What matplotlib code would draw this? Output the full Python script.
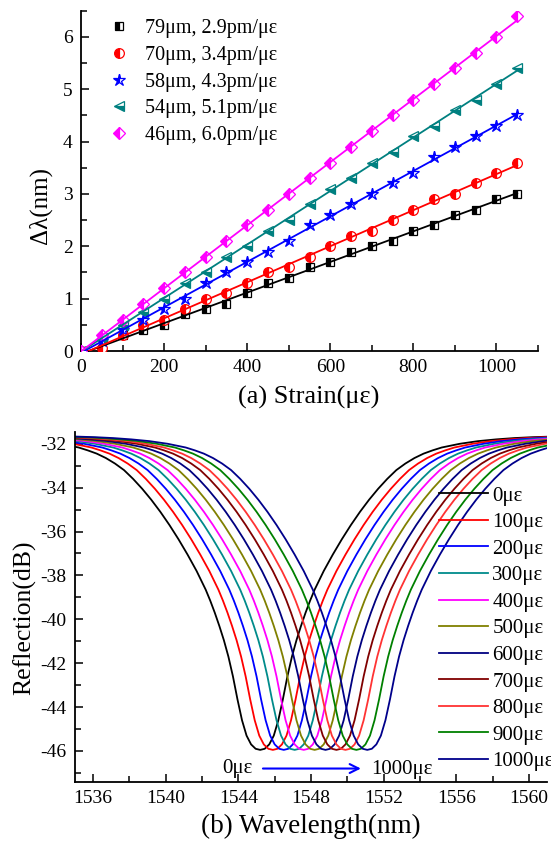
import matplotlib
matplotlib.use('Agg')
import matplotlib.pyplot as plt
import numpy as np
from matplotlib.ticker import MultipleLocator

plt.rcParams['font.family'] = ['Liberation Serif', 'DejaVu Serif']
plt.rcParams['axes.unicode_minus'] = False

# ---------------- data: panel (a) ----------------
strain = [0, 50, 100, 150, 200, 250, 300, 350, 400, 450, 500,
          550, 600, 650, 700, 750, 800, 850, 900, 950, 1000, 1050]
dl_79 = [0, 0.0, 0.3, 0.4, 0.5, 0.7, 0.8, 0.9, 1.1, 1.3, 1.4,
         1.6, 1.7, 1.9, 2.0, 2.1, 2.3, 2.4, 2.6, 2.7, 2.9, 3.0]
dl_70 = [0, 0.05, 0.3, 0.5, 0.6, 0.8, 1.0, 1.1, 1.3, 1.5, 1.6,
         1.8, 2.0, 2.2, 2.3, 2.5, 2.7, 2.9, 3.0, 3.2, 3.4, 3.6]
dl_58 = [0, 0.2, 0.4, 0.6, 0.8, 1.0, 1.3, 1.5, 1.7, 1.9, 2.1,
         2.4, 2.6, 2.8, 3.0, 3.2, 3.4, 3.7, 3.9, 4.1, 4.3, 4.5]
dl_54 = [0, 0.25, 0.5, 0.75, 1.0, 1.3, 1.5, 1.8, 2.0, 2.3, 2.5,
         2.8, 3.1, 3.3, 3.6, 3.8, 4.1, 4.3, 4.6, 4.8, 5.1, 5.4]
dl_46 = [0, 0.3, 0.6, 0.9, 1.2, 1.5, 1.8, 2.1, 2.4, 2.7, 3.0,
         3.3, 3.6, 3.9, 4.2, 4.5, 4.8, 5.1, 5.4, 5.7, 6.0, 6.4]
labels_a = ['79\u03bcm, 2.9pm/\u03bc\u03b5', '70\u03bcm, 3.4pm/\u03bc\u03b5',
            '58\u03bcm, 4.3pm/\u03bc\u03b5', '54\u03bcm, 5.1pm/\u03bc\u03b5',
            '46\u03bcm, 6.0pm/\u03bc\u03b5']
series_a = [dl_79, dl_70, dl_58, dl_54, dl_46]
colors_a = ['#000000', '#FF0000', '#0000FF', '#008080', '#FF00FF']
markers_a = ['s', 'o', '*', '<', 'D']
fills_a = ['left', 'left', 'left', 'bottom', 'left']
msizes_a = [6, 7, 9, 7.5, 6]

# ---------------- data: panel (b) ----------------
strain_b = ['0', '100', '200', '300', '400', '500', '600', '700', '800', '900', '1000']
centers_b = [1545.2, 1545.9, 1546.5, 1547.1, 1547.6, 1548.2,
             1548.8, 1549.4, 1549.9, 1550.5, 1551.1]
colors_b = ['#000000', '#FF0000', '#0000FF', '#008B8B', '#FF00FF', '#808000',
            '#000080', '#800000', '#FF3333', '#008000', '#00008B']
# dip profile: distance from dip centre (nm) -> level (dB)
half_dx = [0, 0.25, 0.5, 0.75, 1.0, 1.25, 1.5, 1.75, 2.0, 2.25, 2.5, 2.75, 3.0,
           3.5, 4.0, 4.5, 5.0, 5.5, 6.0, 6.5, 7.0, 7.5, 8.0, 8.5, 9.0, 9.5,
           10, 11, 12, 13, 14, 15, 16.5]
half_db = [-45.95, -45.9, -45.7, -45.3, -44.6, -43.65, -42.6, -41.7, -40.95,
           -40.3, -39.7, -39.15, -38.65, -37.8, -37.05, -36.35, -35.7, -35.1,
           -34.55, -34.05, -33.6, -33.2, -32.9, -32.65, -32.45, -32.3, -32.17,
           -32.0, -31.88, -31.8, -31.74, -31.7, -31.66]

W, H = 551, 847
fig = plt.figure(figsize=(W / 100, H / 100), dpi=100)


def rect(l, t, r, b):
    return [l / W, 1 - b / H, (r - l) / W, (b - t) / H]


def style(ax):
    for s in ['top', 'right']:
        ax.spines[s].set_visible(False)
    for s in ['left', 'bottom']:
        ax.spines[s].set_linewidth(1.3)
    ax.tick_params(which='both', direction='in', top=False, right=False,
                   labelsize=14, width=1.1, pad=6)
    ax.tick_params(which='major', length=6)
    ax.tick_params(which='minor', length=4)


ax1 = fig.add_axes(rect(81, 10.7, 538, 351))
ax2 = fig.add_axes(rect(75, 431.7, 547, 781.7))
style(ax1)
style(ax2)

# panel (a)
xs = np.array(strain, dtype=float)
for vals, c, m, fs, ms, lab in zip(series_a, colors_a, markers_a, fills_a, msizes_a, labels_a):
    ax1.plot(xs, vals, linestyle='none', marker=m, ms=ms, fillstyle=fs,
             markerfacecolor=c, markerfacecoloralt='white', markeredgecolor=c,
             markeredgewidth=0.9, label=lab, zorder=3)
    p = np.polyfit(xs, vals, 1)
    xf = np.array([xs.min(), xs.max()])
    ax1.plot(xf, np.polyval(p, xf), color=c, lw=1.3, zorder=4)

ax1.set_xlim(0, 1100)
ax1.set_ylim(0, 6.5)
ax1.xaxis.set_major_locator(MultipleLocator(200))
ax1.xaxis.set_minor_locator(MultipleLocator(100))
ax1.yaxis.set_major_locator(MultipleLocator(1))
ax1.yaxis.set_minor_locator(MultipleLocator(0.5))
ax1.legend(loc='upper left', bbox_to_anchor=(109 / W, 1 - 19 / H),
           bbox_transform=fig.transFigure, frameon=False, fontsize=14.5,
           handlelength=1.0, handletextpad=0.8, labelspacing=0.38,
           borderpad=0, borderaxespad=0)

fig.text(309 / W, 1 - 397 / H, '(a) Strain(\u03bc\u03b5)', ha='center', va='center', fontsize=19)
fig.text(40 / W, 1 - 205 / H, '\u0394\u03bb(nm)', ha='center', va='center', fontsize=18, rotation=90)

# panel (b)
prof_dx = np.concatenate([-np.array(half_dx[:0:-1]), np.array(half_dx)])
prof_db = np.concatenate([np.array(half_db[:0:-1]), np.array(half_db)])
for cen, c, lab in zip(centers_b, colors_b, strain_b):
    ax2.plot(cen + prof_dx, prof_db, color=c, lw=1.3, label=lab + '\u03bc\u03b5')

ax2.set_xlim(1535, 1561)
ax2.set_ylim(-47.4, -31.45)
ax2.xaxis.set_major_locator(MultipleLocator(4))
ax2.xaxis.set_minor_locator(MultipleLocator(2))
ax2.yaxis.set_major_locator(MultipleLocator(2))
ax2.yaxis.set_minor_locator(MultipleLocator(1))
ax2.legend(loc='upper left', bbox_to_anchor=(439 / W, 1 - 486 / H),
           bbox_transform=fig.transFigure, frameon=False, fontsize=15,
           handlelength=2.36, handletextpad=0.2, labelspacing=0.335,
           borderpad=0, borderaxespad=0)

ax2.annotate('', xy=(1550.9, -46.8), xytext=(1545.2, -46.8),
             arrowprops=dict(arrowstyle='->', color='#0000FF', lw=1.5, mutation_scale=16))
ax2.text(1544.8, -46.8, '0\u03bc\u03b5', ha='right', va='center', fontsize=15)
ax2.text(1551.3, -46.85, '1000\u03bc\u03b5', ha='left', va='center', fontsize=15)

fig.text(311 / W, 1 - 826 / H, '(b) Wavelength(nm)', ha='center', va='center', fontsize=19.5)
fig.text(25 / W, 1 - 618 / H, 'Reflection(dB)', ha='center', va='center', fontsize=18.5, rotation=90)

fig.savefig('out.png', dpi=100)
